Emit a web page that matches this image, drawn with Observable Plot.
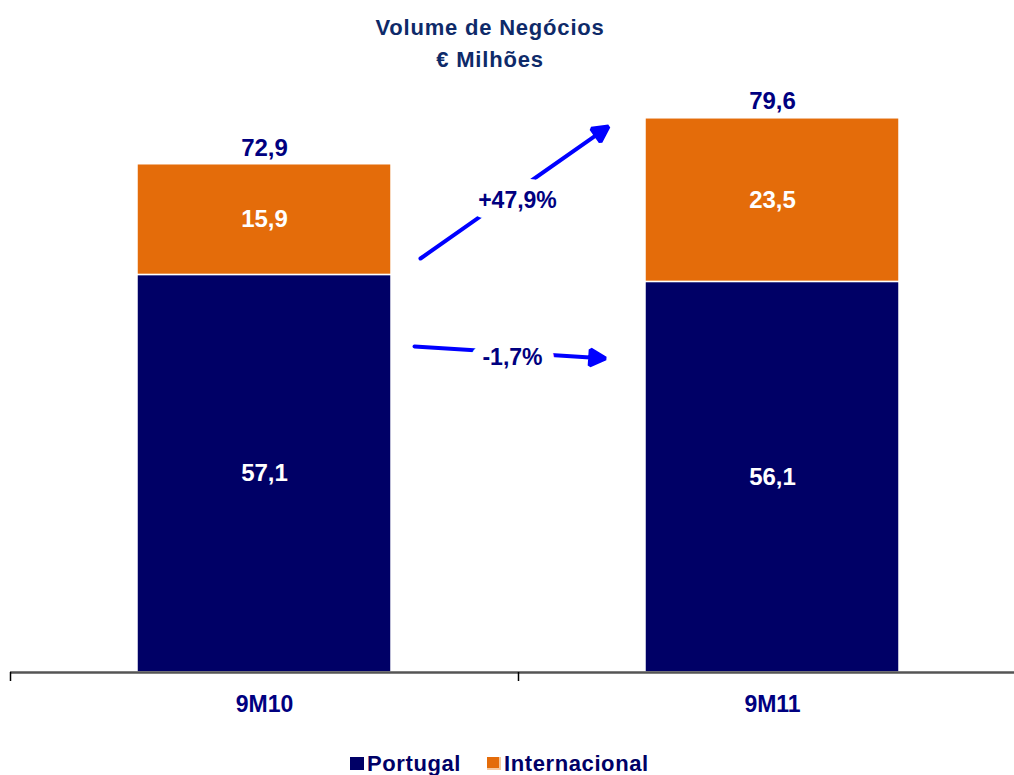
<!DOCTYPE html>
<html>
<head>
<meta charset="utf-8">
<script src="https://cdn.jsdelivr.net/npm/d3@7"></script>
<script src="https://cdn.jsdelivr.net/npm/@observablehq/plot@0.6"></script>
<style>
  body { margin: 0; background: #fff; font-family: "Liberation Sans", Arial, sans-serif; }
  #wrap { position: relative; width: 1014px; height: 775px; overflow: hidden; }
  .title { position: absolute; left: 0; width: 980px; text-align: center; font-weight: bold;
           color: #0e2a69; font-size: 22px; line-height: 26px; letter-spacing: 0.8px; }
  #chart { position: absolute; left: 0; top: 0; }
  .lg-sq { position: absolute; width: 14px; height: 13px; box-sizing: border-box; }
  .lg-tx { position: absolute; font-weight: bold; font-size: 22px; line-height: 24px; color: #000066; letter-spacing: 0.6px; }
</style>
</head>
<body>
<div id="wrap">
  <div class="title" style="top:15px">Volume de Negócios</div>
  <div class="title" style="top:47px">€ Milhões</div>
  <div id="chart"></div>
  <div class="lg-sq" style="left:350px;top:757px;background:#000066"></div>
  <div class="lg-tx" style="left:367px;top:752px">Portugal</div>
  <div class="lg-sq" style="left:487px;top:757px;background:#E46C0A;border-right:2px solid #f6c9a0;border-bottom:2px solid #f6c9a0"></div>
  <div class="lg-tx" style="left:504px;top:752px">Internacional</div>
</div>
<script>
// ---- data ----
const periods = ["9M10", "9M11"];
const seriesNames = ["Portugal", "Internacional"];
const portugal = [57.1, 56.1];
const internacional = [15.9, 23.5];
const totals = [72.9, 79.6];
const colors = ["#000066", "#E46C0A"];

// growth annotations (arrow between the two periods, y in € M)
const growthLabels = ["+47,9%", "-1,7%"];
const arrowFrom = ["9M10", "9M10"];
const arrowTo = ["9M11", "9M11"];
const arrowY1 = [43.73, 48.18];
const arrowY2 = [94.96, 43.59];
const arrowInsetStart = [190.6, 150.3];
const arrowInsetEnd = [200.4, 167.3];
const labelY = [67.79, 45.24];
const labelDx = [253, 248];

const fmt = v => v.toFixed(1).replace(".", ",");

const rows = periods.flatMap((p, i) => [
  {period: p, series: seriesNames[0], value: portugal[i]},
  {period: p, series: seriesNames[1], value: internacional[i]}
]);
const totalRows = periods.map((p, i) => ({period: p, total: totals[i]}));
const arrows = growthLabels.map((t, i) => ({
  from: arrowFrom[i], to: arrowTo[i], y1: arrowY1[i], y2: arrowY2[i],
  label: t, ly: labelY[i]
}));

const W = 1014, H = 775;
const mL = 10, mR = -12;
const step = (W - mL - mR) / periods.length;

const font = "Liberation Sans, Arial, sans-serif";
const navy = "#000080";
const blue = "#0000ff";

// render hook: turn the open chevron into a filled triangular head
function filledHead(index, scales, values, dims, context, next) {
  const g = next(index, scales, values, dims, context);
  d3.select(g).selectAll("path").each(function () {
    const d = this.getAttribute("d");
    if (!d) return;
    const n = d.match(/-?\d*\.?\d+(e-?\d+)?/g).map(Number);
    if (n.length < 10) return;
    const [x1, y1, x2, y2, ax, ay, , , bx, by] = n;
    const mx = (ax + bx) / 2, my = (ay + by) / 2;
    this.setAttribute("d", `M${x1},${y1}L${mx},${my}M${ax},${ay}L${x2},${y2}L${bx},${by}Z`);
    this.setAttribute("fill", blue);
    this.setAttribute("stroke-linejoin", "miter");
  });
  return g;
}

const arrowMarks = arrows.map((a, i) => Plot.arrow([a], {
  x1: "from", x2: "to", y1: "y1", y2: "y2",
  insetStart: arrowInsetStart[i], insetEnd: arrowInsetEnd[i],
  stroke: blue, strokeWidth: 4, headLength: 6.5, headAngle: 55,
  render: filledHead
}));
// white knock-out behind each growth label (gap in the arrow)
const haloMarks = arrows.map((a, i) => Plot.text([a], {
  x: "from", y: "ly", dx: labelDx[i], text: "label",
  fill: "white", stroke: "white", strokeWidth: 24, strokeLinejoin: "round",
  fontSize: 23, fontWeight: "bold", fontFamily: font
}));
const labelMarks = arrows.map((a, i) => Plot.text([a], {
  x: "from", y: "ly", dx: labelDx[i], text: "label",
  fill: navy, fontSize: 23, fontWeight: "bold", fontFamily: font
}));

const chart = Plot.plot({
  width: W,
  height: H,
  marginLeft: mL,
  marginRight: mR,
  marginTop: 115,
  marginBottom: H - 672,
  style: {fontFamily: font, background: "transparent"},
  x: {domain: periods, padding: 0, label: null, axis: null},
  y: {domain: [0, 80], axis: null},
  color: {domain: seriesNames, range: colors},
  marks: [
    Plot.barY(rows, {
      x: "period", y: "value", fill: "series",
      insetLeft: step * 0.25, insetRight: step * 0.25,
      stroke: "#fff", strokeWidth: 1.5
    }),
    Plot.text(rows, Plot.stackY({
      x: "period", y: "value", text: d => fmt(d.value),
      fill: "white", fontSize: 24, fontWeight: "bold", fontFamily: font
    })),
    Plot.text(totalRows, {
      x: "period", y: "total", text: d => fmt(d.total), dy: -17,
      fill: navy, fontSize: 24, fontWeight: "bold", fontFamily: font
    }),
    Plot.ruleY([0], {stroke: "#555", strokeWidth: 2.5}),
    Plot.axisX({tickSize: 9, fill: "none", stroke: "#000", strokeWidth: 1.5, dx: -step / 2, label: null}),
    Plot.axisX({
      tickSize: 0, tickPadding: 23, label: null,
      fontSize: 23, fontWeight: "bold", fill: navy, fontFamily: font
    }),
    ...arrowMarks,
    ...haloMarks,
    ...labelMarks
  ]
});
document.getElementById("chart").appendChild(chart);
</script>
</body>
</html>
